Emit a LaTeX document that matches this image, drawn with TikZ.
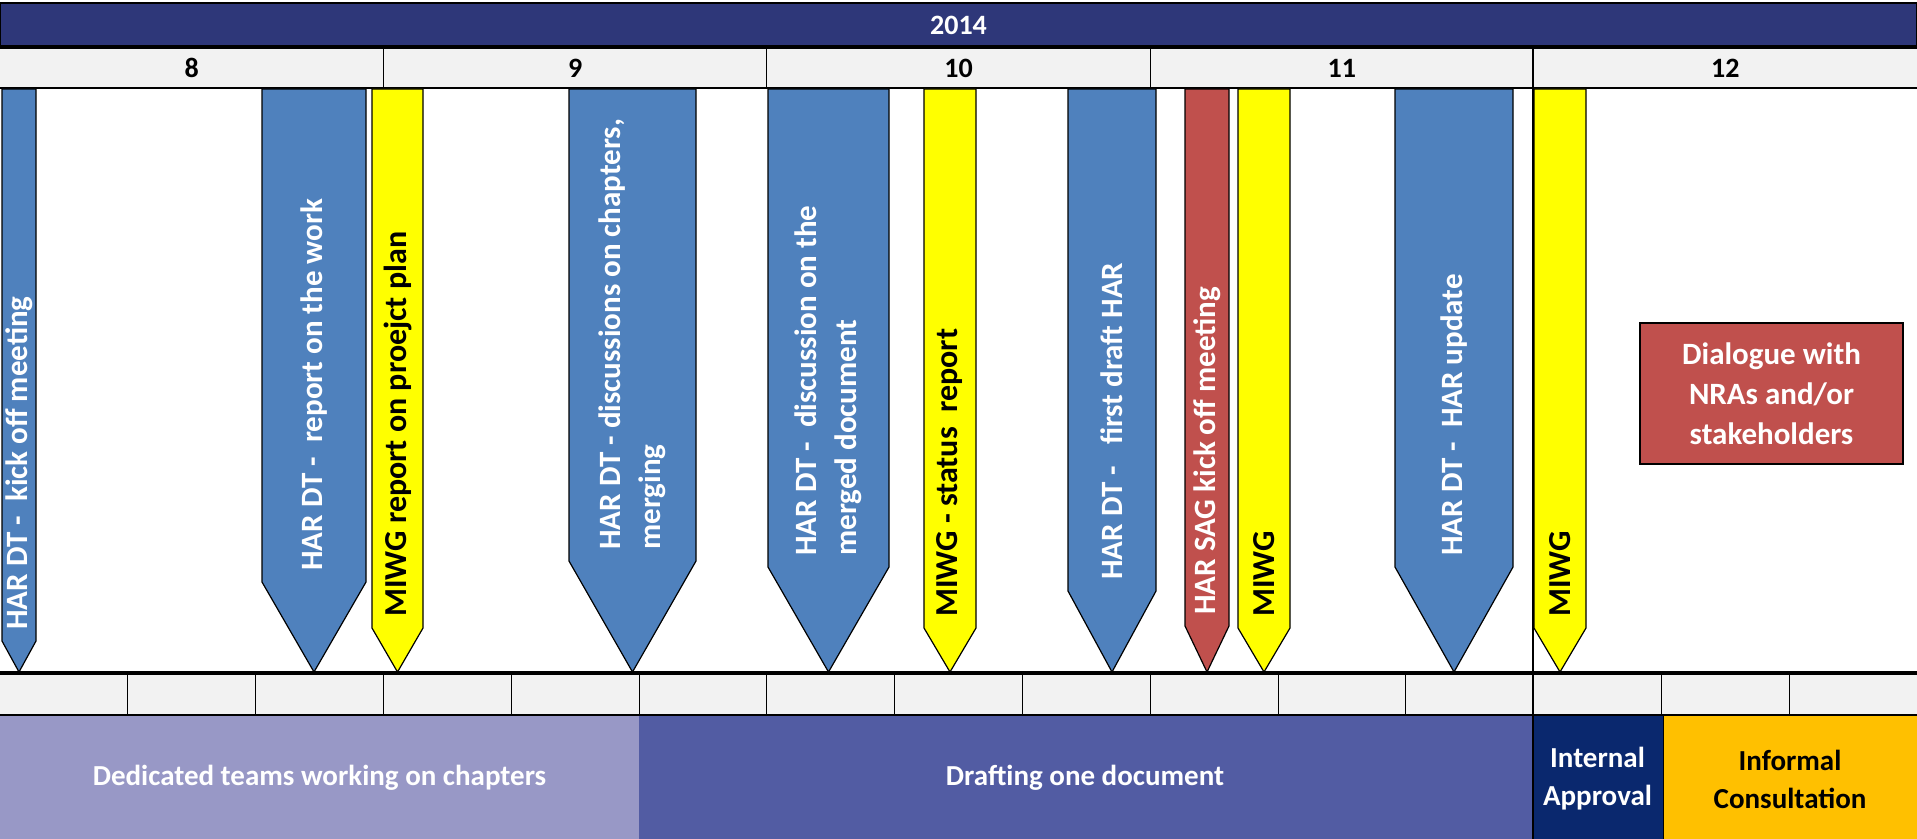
\documentclass[tikz,border=0pt]{standalone}
\usepackage{fontspec}
\setmainfont{Carlito}
\usetikzlibrary{calc}

\definecolor{yearnavy}{RGB}{46,55,121}
\definecolor{cellgray}{RGB}{242,242,242}
\definecolor{hdtblue}{RGB}{79,129,189}
\definecolor{miwgyellow}{RGB}{255,255,0}
\definecolor{sagred}{RGB}{192,80,77}
\definecolor{teamlav}{RGB}{152,152,198}
\definecolor{draftblue}{RGB}{82,92,163}
\definecolor{apprnavy}{RGB}{10,40,110}
\definecolor{consamber}{RGB}{255,192,0}

\tikzset{
  pen/.style   = {draw=black, line width=0.6pt, line join=miter},
  wtext/.style = {rotate=90, anchor=west, inner sep=0pt, align=left,
                  text=white, font=\fontsize{15.5}{20}\selectfont\bfseries},
  btext/.style = {rotate=90, anchor=west, inner sep=0pt, align=left,
                  text=black, font=\fontsize{16}{20}\selectfont\bfseries},
  monthlbl/.style = {inner sep=0pt, font=\fontsize{14}{16}\selectfont\bfseries},
  bandlbl/.style  = {inner sep=0pt, align=center, text=white,
                     font=\fontsize{14.5}{19}\selectfont\bfseries},
  rule/.style  = {black, line width=#1},
  rule/.default = 0.6pt
}

%% pennant: name, left x, right x, shaft end y, fill, text style, text
\newcommand{\pennant}[7]{%
  \filldraw[pen, fill=#5] (#2,89) -- (#3,89) -- (#3,#4)
    -- ({(#2+#3)/2},672) -- (#2,#4) -- cycle;
  \node[#6] (#1) at ({(#2+#3)/2},{#4-11}) {#7};
}

\begin{document}
\begin{tikzpicture}[x=0.5pt, y=-0.5pt]
  \useasboundingbox (0,0) rectangle (1917,839);

  %% Year bar
  \fill[yearnavy, draw=black, line width=0.6pt] (0,3) rectangle (1917,46);
  \node[monthlbl, text=white] (yr) at (958.5,25) {2014};

  %% Month row
  \fill[cellgray] (0,47) rectangle (1917,87);
  \foreach \m [count=\i from 0] in {8,9,10,11,12}
    \node[monthlbl] (m\m) at ({(\i+0.5)*383.4},68) {\m};
  \foreach \i in {1,2,3}
    \draw[rule] ({\i*383.4},47) -- ({\i*383.4},87);
  \draw[rule=1.6pt] (0,47) -- (1917,47);
  \draw[rule=1.1pt] (0,88) -- (1917,88);

  %% Week row
  \fill[cellgray] (0,674) rectangle (1917,714);
  \foreach \i in {1,...,14}
    \draw[rule=0.5pt] ({\i*127.8},674) -- ({\i*127.8},716);

  %% Phase bands
  \fill[teamlav]   (0,716)    rectangle (639,839);
  \fill[draftblue] (639,716)  rectangle (1532,839);
  \fill[apprnavy]  (1532,716) rectangle (1663,839);
  \fill[consamber] (1663,716) rectangle (1917,839);
  \node[bandlbl] (teams) at (319.5,778) {Dedicated teams working on chapters};
  \node[bandlbl] (draft) at (1085,778) {Drafting one document};
  \node[bandlbl] (appr)  at (1597.5,779) {Internal\\Approval};
  \node[bandlbl, text=black] (cons) at (1790,779) {Informal\\Consultation};
  \draw[rule=0.5pt] (1663,714) -- (1663,839);

  %% Month 12 divider
  \draw[rule=0.8pt] (1533,47) -- (1533,839);

  %% Pennants
  \pennant{p1}{2}{36}{641}{hdtblue}{wtext}{HAR DT -~ kick off meeting}
  \pennant{p2}{262}{366}{582}{hdtblue}{wtext}{HAR DT -~ report on the work}
  \pennant{p3}{372}{423}{628}{miwgyellow}{btext}{MIWG report on proejct plan}
  \pennant{p4}{569}{696}{561}{hdtblue}{wtext}{HAR DT - discussions on chapters,\\ merging}
  \pennant{p5}{768}{889}{567}{hdtblue}{wtext}{HAR DT -~ discussion on the\\ merged document}
  \pennant{p6}{924}{976}{628}{miwgyellow}{btext}{MIWG - status~ report}
  \pennant{p7}{1068}{1156}{591}{hdtblue}{wtext}{HAR DT -~~ first draft HAR}
  \pennant{p8}{1185}{1229}{626}{sagred}{wtext}{HAR SAG kick off meeting}
  \pennant{p9}{1238}{1290}{628}{miwgyellow}{btext}{MIWG}
  \pennant{p10}{1395}{1513}{567}{hdtblue}{wtext}{HAR DT -~ HAR update}
  \pennant{p11}{1534}{1586}{628}{miwgyellow}{btext}{MIWG}

  %% Dialogue box
  \node[pen, fill=sagred, minimum width=131.5pt, minimum height=70.5pt,
        inner sep=0pt, align=center, text=white,
        font=\fontsize{15.5}{20}\selectfont\bfseries]
    (dlg) at (1771.5,393.5) {Dialogue with\\NRAs and/or\\stakeholders};

  %% Timeline rules
  \draw[rule=1.8pt] (0,673) -- (1917,673);
  \draw[rule=1.3pt] (0,715) -- (1917,715);
\end{tikzpicture}
\end{document}
